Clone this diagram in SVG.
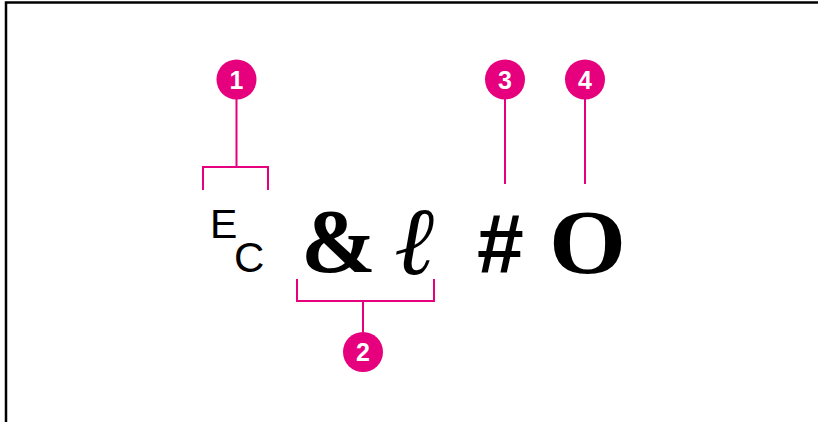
<svg xmlns="http://www.w3.org/2000/svg" width="818" height="422" viewBox="0 0 818 422">
  <style>
    .ln { stroke: #E6007E; stroke-width: 2; fill: none; }
    .dot { fill: #E6007E; }
    .num { fill: #fff; font-family: "Liberation Sans", Arial, sans-serif; font-weight: bold; font-size: 25px; text-anchor: middle; }
    .sans { fill: #000; font-family: "Liberation Sans", Arial, sans-serif; }
    .serif { fill: #000; font-family: "Liberation Serif", "Times New Roman", serif; }
  </style>
  <rect width="818" height="422" fill="#fff"/>
  <path d="M6,422 V2.5 H818" fill="none" stroke="#000" stroke-width="2.5"/>

  <g id="connectors">
    <path class="ln" d="M236.5,99 V167 M203,190 V167 H268 V190"/>
    <path class="ln" d="M297,279 V301 H434 V279 M363,301 V332"/>
    <path class="ln" d="M505,99 V184"/>
    <path class="ln" d="M585,99 V184"/>
  </g>

  <g id="escape">
    <text class="sans" x="210" y="238" font-size="41">E</text>
    <text class="sans" x="234" y="272" font-size="42">C</text>
  </g>
  <g id="ampersand">
    <text class="serif" x="301" y="272" font-size="90" font-weight="bold">&amp;</text>
  </g>
  <g id="ell">
    <text class="serif" x="394" y="274" font-size="96" font-style="italic">ℓ</text>
  </g>
  <g id="hash">
    <text class="sans" x="477" y="273" font-size="84" font-weight="bold">#</text>
  </g>
  <g id="letterO">
    <text class="serif" font-size="90" font-weight="bold" text-anchor="middle" transform="translate(587.5,273) scale(1.1,1)">O</text>
  </g>

  <g id="callout1">
    <circle class="dot" cx="236.5" cy="79.5" r="20"/>
    <text class="num" x="236.5" y="89">1</text>
  </g>
  <g id="callout2">
    <circle class="dot" cx="363" cy="352" r="20"/>
    <text class="num" x="363" y="361">2</text>
  </g>
  <g id="callout3">
    <circle class="dot" cx="505" cy="79.5" r="20"/>
    <text class="num" x="505" y="89">3</text>
  </g>
  <g id="callout4">
    <circle class="dot" cx="585" cy="79.5" r="20"/>
    <text class="num" x="585" y="89">4</text>
  </g>
</svg>
